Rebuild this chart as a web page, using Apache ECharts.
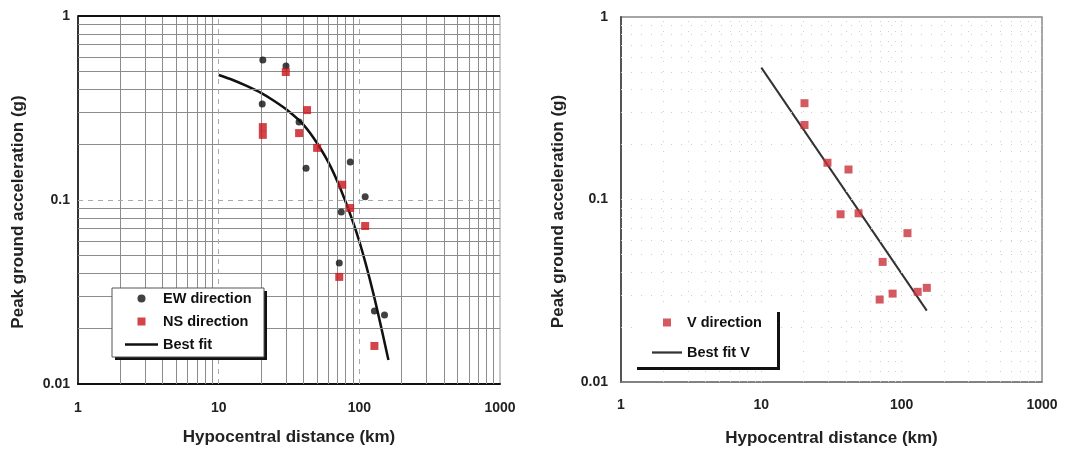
<!DOCTYPE html>
<html>
<head>
<meta charset="utf-8">
<script src="https://cdn.jsdelivr.net/npm/echarts@6/dist/echarts.min.js"></script>
<style>
html, body {margin: 0; padding: 0; background: #fff;}
#main {width: 1074px; height: 452px;}
</style>
</head>
<body>
<div id="main"></div>
<script>
// left panel: horizontal components
var ewDist = [20.6, 30.1, 20.4, 37.3, 41.8, 86.2, 110, 74.4, 72, 128, 151];
var ewPga  = [0.577, 0.535, 0.332, 0.265, 0.149, 0.161, 0.104, 0.086, 0.0455, 0.0249, 0.0237];
var nsDist = [30, 42.5, 20.6, 20.6, 37.3, 50.1, 75.6, 86, 110, 72, 128, 151];
var nsPga  = [0.496, 0.308, 0.249, 0.226, 0.231, 0.192, 0.121, 0.0905, 0.0722, 0.0382, 0.0161, 0.0098];
var fitDist = [10, 12.6, 15.8, 20, 25, 31.6, 40, 50, 63, 79, 100, 126, 161];
var fitPga  = [0.478, 0.449, 0.417, 0.382, 0.344, 0.303, 0.257, 0.204, 0.150, 0.100, 0.0596, 0.0309, 0.0135];

// right panel: vertical component
var vDist = [20.3, 20.3, 29.6, 41.8, 36.7, 49.3, 110, 73.2, 69.7, 86.2, 130, 151];
var vPga  = [0.337, 0.256, 0.159, 0.146, 0.083, 0.084, 0.0654, 0.0455, 0.0283, 0.0305, 0.0312, 0.0328];
var fitVDist = [10, 151];
var fitVPga  = [0.528, 0.0246];

// grid positions (log minor lines)
var minorX = [2, 3, 4, 5, 6, 7, 8, 9, 20, 30, 40, 50, 60, 70, 80, 90, 200, 300, 400, 500, 600, 700, 800, 900];
var minorY = [0.02, 0.03, 0.04, 0.05, 0.06, 0.07, 0.08, 0.09, 0.2, 0.3, 0.4, 0.5, 0.6, 0.7, 0.8, 0.9];
var majorX = [10, 100];
var majorY = [0.1];

var font = 'Liberation Sans, Arial, sans-serif';

function pairs(xs, ys) {
    return xs.map(function (x, i) { return [x, ys[i]]; });
}
function fmt(v) {
    return String(Number(v.toPrecision(6)));
}

function gridLines(style, majorStyle) {
    var d = [];
    minorX.forEach(function (v) { d.push({xAxis: v, lineStyle: style}); });
    minorY.forEach(function (v) { d.push({yAxis: v, lineStyle: style}); });
    majorX.forEach(function (v) { d.push({xAxis: v, lineStyle: majorStyle}); });
    majorY.forEach(function (v) { d.push({yAxis: v, lineStyle: majorStyle}); });
    return d;
}

var leftLines = gridLines({color: '#8c8c8c', width: 1, type: 'solid'},
                          {color: '#aaa', width: 1, type: [5, 5]});
// thick top border of the left frame
leftLines.push({yAxis: 1, lineStyle: {color: '#111', width: 2, type: 'solid'}});
var rightLines = gridLines({color: '#cfcfcf', width: 1, type: [1, 9]},
                           {color: '#cfcfcf', width: 1, type: [1, 9]});

function xAxisCfg(idx, left) {
    return {
        gridIndex: idx,
        type: 'log',
        logBase: 10,
        min: 1,
        max: 1000,
        name: 'Hypocentral distance (km)',
        nameLocation: 'middle',
        nameGap: left ? 45 : 48,
        nameTextStyle: {fontFamily: font, fontWeight: 'bold', fontSize: 17, color: '#222'},
        axisLine: {show: true, lineStyle: {color: left ? '#111' : '#777', width: left ? 2 : 1.5}},
        axisTick: {show: false},
        splitLine: {show: false},
        axisLabel: {margin: left ? 17 : 16, fontFamily: font, fontWeight: 'bold', fontSize: 14, color: '#222', formatter: fmt}
    };
}
function yAxisCfg(idx, left) {
    return {
        gridIndex: idx,
        type: 'log',
        logBase: 10,
        min: 0.01,
        max: 1,
        name: 'Peak ground acceleration (g)',
        nameLocation: 'middle',
        nameGap: left ? 51 : 54,
        nameTextStyle: {fontFamily: font, fontWeight: 'bold', fontSize: 17, color: '#222', padding: [0, 24, 0, 0]},
        axisLine: {show: true, lineStyle: {color: left ? '#333' : '#555', width: 2}},
        axisTick: {show: false},
        splitLine: {show: false},
        axisLabel: {margin: left ? 8 : 13, fontFamily: font, fontWeight: 'bold', fontSize: 14, color: '#222', formatter: fmt}
    };
}

var myChart = echarts.init(document.getElementById('main'), null, {renderer: 'canvas'});

var square = 'path://M0,0H10V10H0Z';
var dash = 'path://M0,0H40V3H0Z';
var legendText = {fontFamily: font, fontWeight: 'bold', fontSize: 14.5, color: '#111'};

option = {
    animation: false,
    backgroundColor: '#fff',
    grid: [
        {left: 78, top: 16, width: 422, height: 368, show: true, borderColor: '#999', borderWidth: 1},
        {left: 621, top: 17, width: 421, height: 368, show: true, borderColor: '#888', borderWidth: 1.5}
    ],
    xAxis: [xAxisCfg(0, true), xAxisCfg(1, false)],
    yAxis: [yAxisCfg(0, true), yAxisCfg(1, false)],
    legend: [
        {
            left: 125, top: 291, orient: 'vertical', padding: 0,
            itemWidth: 33, itemHeight: 8, itemGap: 8, selectedMode: false, z: 20,
            textStyle: legendText,
            data: [
                {name: 'EW direction', icon: 'circle'},
                {name: 'NS direction', icon: square},
                {name: 'Best fit', icon: dash}
            ]
        },
        {
            left: 652, top: 315, orient: 'vertical', padding: 0,
            itemWidth: 30, itemHeight: 8, itemGap: 15, selectedMode: false, z: 20,
            textStyle: legendText,
            data: [
                {name: 'V direction', icon: square},
                {name: 'Best fit V', icon: dash}
            ]
        }
    ],
    graphic: [
        {type: 'rect', z: 15, shape: {x: 115, y: 291, width: 152, height: 69}, style: {fill: '#111'}},
        {type: 'rect', z: 16, shape: {x: 112, y: 288, width: 152, height: 69}, style: {fill: '#fff', stroke: '#555', lineWidth: 1}},
        {type: 'rect', z: 15, shape: {x: 637, y: 312, width: 143, height: 58}, style: {fill: '#111'}},
        {type: 'rect', z: 16, shape: {x: 634, y: 305, width: 143, height: 62}, style: {fill: '#fff'}}
    ],
    series: [
        {
            name: 'grid-left', type: 'line', xAxisIndex: 0, yAxisIndex: 0, data: [], z: 1,
            markLine: {silent: true, symbol: 'none', label: {show: false}, animation: false, data: leftLines}
        },
        {
            name: 'EW direction', type: 'scatter', xAxisIndex: 0, yAxisIndex: 0, z: 5,
            symbol: 'circle', symbolSize: 7,
            itemStyle: {color: '#111'},
            data: pairs(ewDist, ewPga)
        },
        {
            name: 'NS direction', type: 'scatter', xAxisIndex: 0, yAxisIndex: 0, z: 5,
            symbol: 'rect', symbolSize: 8,
            itemStyle: {color: '#c8141a'},
            data: pairs(nsDist, nsPga)
        },
        {
            name: 'Best fit', type: 'line', xAxisIndex: 0, yAxisIndex: 0, z: 4,
            symbol: 'none', smooth: 0.3,
            lineStyle: {color: '#111', width: 2.5},
            itemStyle: {color: '#111'},
            data: pairs(fitDist, fitPga)
        },
        {
            name: 'grid-right', type: 'line', xAxisIndex: 1, yAxisIndex: 1, data: [], z: 1,
            markLine: {silent: true, symbol: 'none', label: {show: false}, animation: false, data: rightLines}
        },
        {
            name: 'V direction', type: 'scatter', xAxisIndex: 1, yAxisIndex: 1, z: 5,
            symbol: 'rect', symbolSize: 8,
            itemStyle: {color: '#c9303a'},
            data: pairs(vDist, vPga)
        },
        {
            name: 'Best fit V', type: 'line', xAxisIndex: 1, yAxisIndex: 1, z: 4,
            symbol: 'none',
            lineStyle: {color: '#333', width: 2},
            itemStyle: {color: '#333'},
            data: pairs(fitVDist, fitVPga)
        }
    ]
};

myChart.setOption(option);
</script>
</body>
</html>
